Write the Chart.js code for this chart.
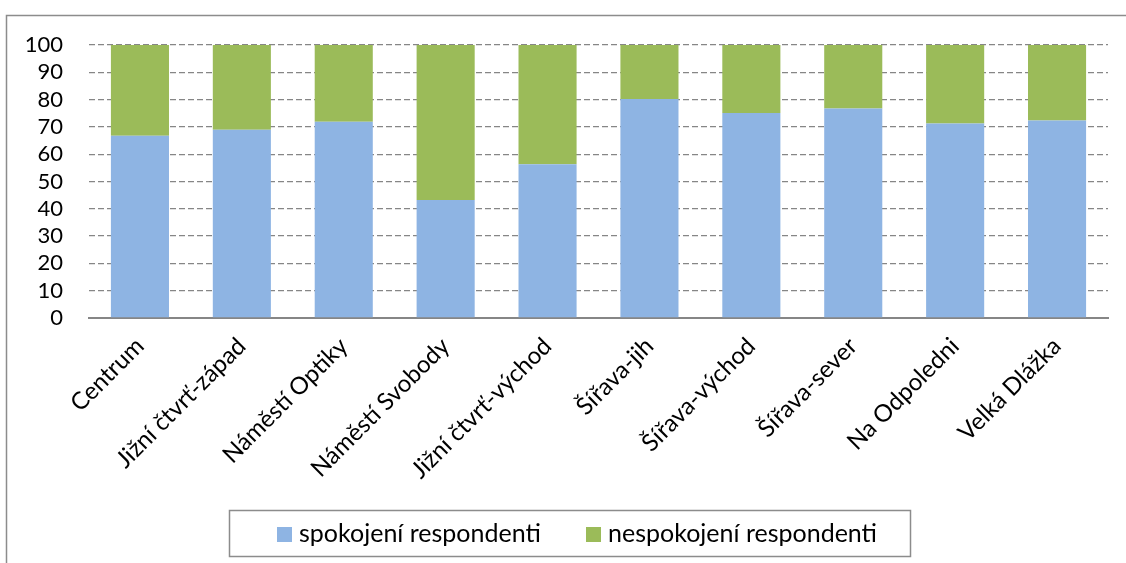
<!DOCTYPE html>
<html>
<head>
<meta charset="utf-8">
<script src="https://cdn.jsdelivr.net/npm/chart.js@4.4.1/dist/chart.umd.min.js"></script>
<style>
  html, body { margin: 0; padding: 0; background: #ffffff; }
  #wrap { width: 1126px; height: 563px; position: relative; }
</style>
</head>
<body>
<div id="wrap"><canvas id="c" width="1126" height="563"></canvas></div>
<script>
const categories = ["Centrum", "Jižní čtvrť-západ", "Náměstí Optiky", "Náměstí Svobody", "Jižní čtvrť-východ", "Šířava-jih", "Šířava-východ", "Šířava-sever", "Na Odpoledni", "Velká Dlážka"];
const spokojeni = [66.8, 69.0, 71.9, 43.2, 56.3, 80.2, 75.1, 76.7, 71.2, 72.3];
const nespokojeni = [33.2, 31.0, 28.1, 56.8, 43.7, 19.8, 24.9, 23.3, 28.8, 27.7];
const seriesLabels = ["spokojení respondenti", "nespokojení respondenti"];
const seriesColors = ["#8EB4E3", "#9BBB59"];

const FONT = "Lato, 'Noto Sans', sans-serif";

const framePlugin = {
  id: 'frame',
  beforeDraw(chart) {
    const ctx = chart.ctx;
    ctx.save();
    ctx.fillStyle = '#ffffff';
    ctx.fillRect(0, 0, chart.width, chart.height);
    ctx.strokeStyle = '#8c8c8c';
    ctx.lineWidth = 1.5;
    ctx.beginPath();
    ctx.moveTo(6.5, 563);
    ctx.lineTo(6.5, 15.5);
    ctx.lineTo(1126, 15.5);
    ctx.stroke();
    ctx.restore();
  },
  afterDraw(chart) {
    // legend drawn from the chart's dataset labels/colours
    const ctx = chart.ctx;
    const boxL = 229, boxT = 510, boxW = 681, boxH = 46;
    const cy = boxT + boxH / 2 + 1;
    ctx.save();
    ctx.strokeStyle = '#8c8c8c';
    ctx.lineWidth = 1.5;
    ctx.strokeRect(boxL + 0.5, boxT + 0.5, boxW, boxH);
    ctx.font = "25px " + FONT;
    ctx.textBaseline = 'middle';
    ctx.textAlign = 'left';
    const itemX = [277, 586];
    chart.data.datasets.forEach((ds, i) => {
      const x = itemX[i];
      ctx.fillStyle = ds.backgroundColor;
      ctx.fillRect(x, cy - 7, 15, 15);
      ctx.fillStyle = '#000000';
      ctx.fillText(ds.label, x + 22, cy);
    });
    ctx.restore();
  }
};

new Chart(document.getElementById('c'), {
  type: 'bar',
  data: {
    labels: categories,
    datasets: [
      { label: seriesLabels[0], data: spokojeni, backgroundColor: seriesColors[0], borderWidth: 0 },
      { label: seriesLabels[1], data: nespokojeni, backgroundColor: seriesColors[1], borderWidth: 0 }
    ]
  },
  options: {
    responsive: false,
    animation: false,
    devicePixelRatio: 1,
    layout: { padding: { left: 0, right: 18, top: 45, bottom: 50 } },
    datasets: { bar: { categoryPercentage: 1.0, barPercentage: 0.57 } },
    plugins: {
      tooltip: { enabled: false },
      legend: { display: false }
    },
    scales: {
      x: {
        stacked: true,
        grid: { display: false, drawTicks: false },
        border: { display: true, color: '#868686', width: 2 },
        ticks: {
          autoSkip: false, minRotation: 45, maxRotation: 45,
          color: '#000000', padding: 14,
          font: { family: FONT, size: 24 }
        },
        afterFit(scale) { scale.height = 195; }
      },
      y: {
        stacked: true,
        min: 0, max: 100,
        grid: {
          drawTicks: false,
          color: ctx => (ctx.tick && ctx.tick.value === 0) ? 'rgba(0,0,0,0)' : '#868686',
          lineWidth: 1.3
        },
        border: { display: false, dash: [6, 3] },
        ticks: {
          stepSize: 10, autoSkip: false,
          color: '#000000', padding: 26,
          font: { family: FONT, size: 22 }
        },
        afterFit(scale) { scale.width = 89; }
      }
    }
  },
  plugins: [framePlugin]
});
</script>
</body>
</html>
